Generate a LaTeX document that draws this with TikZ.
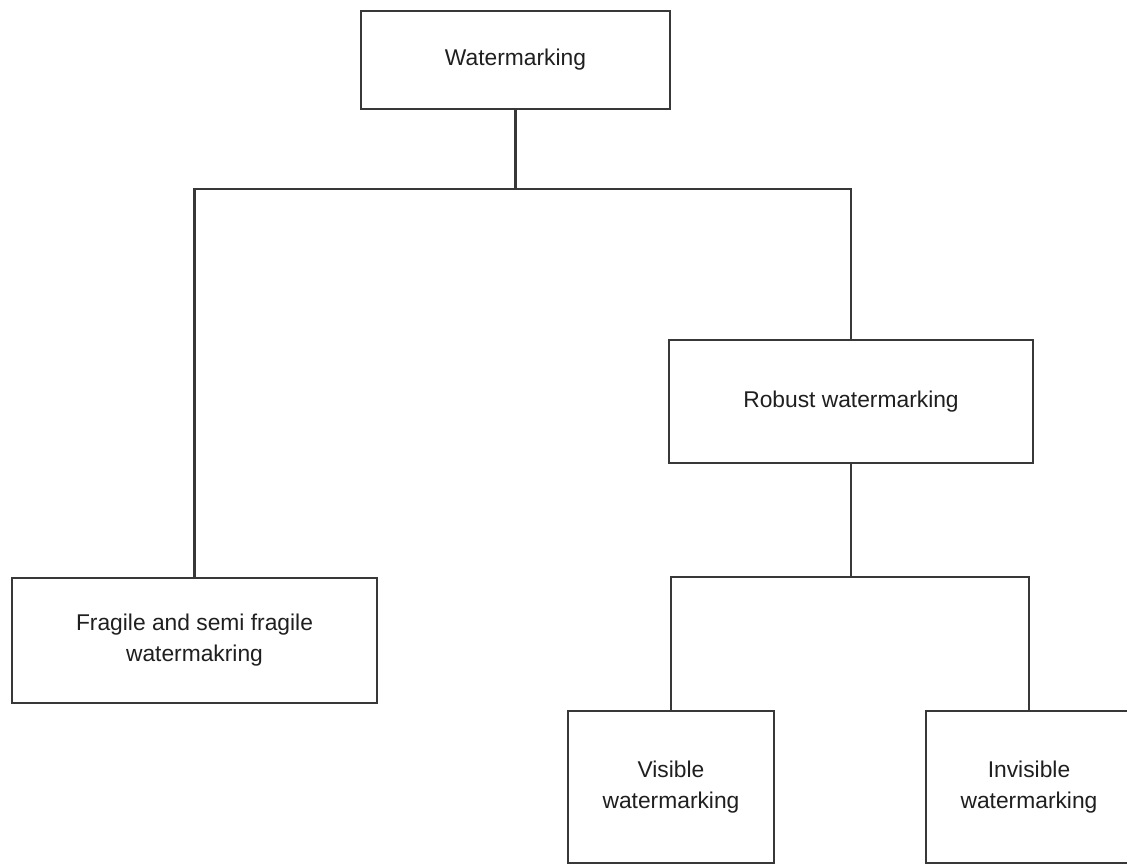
\documentclass[tikz,border=0pt]{standalone}
\usepackage{fontspec}
\setmainfont{Liberation Sans}
\begin{document}
\begin{tikzpicture}[x=1pt,y=-1pt,
  box/.style={draw=black!78, line width=2.2pt, fill=white, inner sep=0pt,
    align=center, text=black!88,
    font=\fontsize{22.8}{31}\selectfont},
  link/.style={draw=black!78, line width=2.2pt}]
  \useasboundingbox (0,0) rectangle (1127,865);

  % classification boxes
  \node[box, minimum width=309pt, minimum height=98pt]  (wm) at (515.5,60)  {Watermarking};
  \node[box, minimum width=364pt, minimum height=123pt] (rb) at (851,401.5) {Robust watermarking};
  \node[box, minimum width=365pt, minimum height=125pt] (fr) at (194.5,640.5)
    {Fragile and semi fragile\\watermakring};
  \node[box, minimum width=206pt, minimum height=152pt] (vi) at (671,787)
    {Visible\\watermarking};
  \node[box, minimum width=206pt, minimum height=152pt] (iv) at (1029,787)
    {Invisible\\watermarking};

  % branch points of the tree
  \coordinate (j1) at (515.5,189);
  \coordinate (j2) at (851,577);

  % connectors
  \draw[link] (wm.south) -- (j1);
  \draw[link] (fr.north) |- (j1) -| (rb.north);
  \draw[link] (rb.south) -- (j2);
  \draw[link] (vi.north) |- (j2) -| (iv.north);
\end{tikzpicture}
\end{document}
